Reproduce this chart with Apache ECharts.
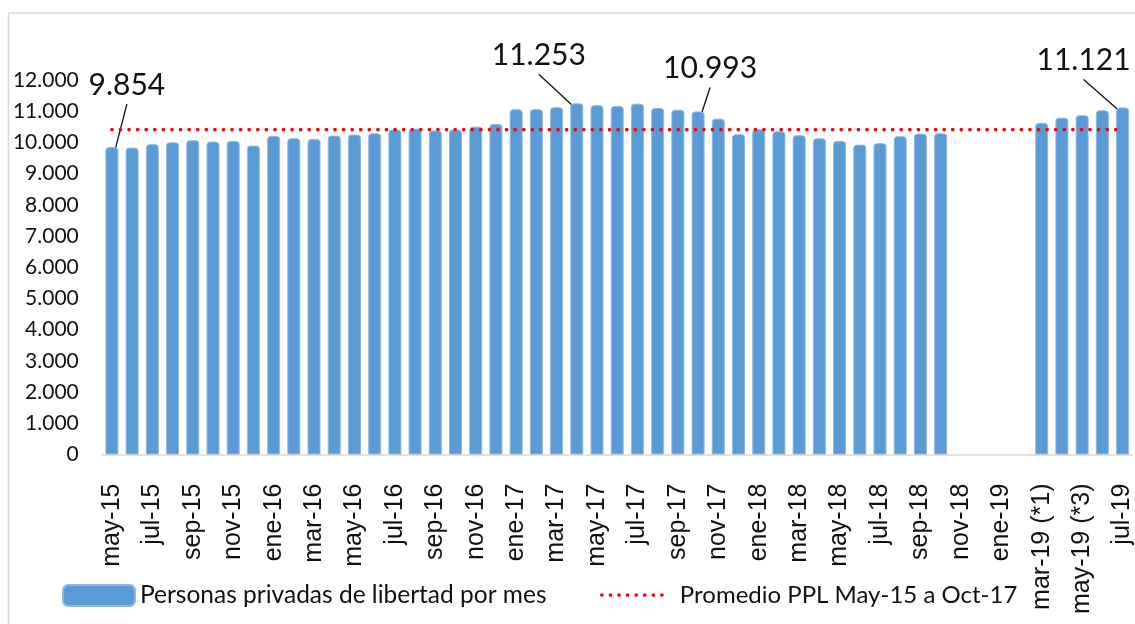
<!DOCTYPE html>
<html>
<head>
<meta charset="utf-8">
<script src="https://cdn.jsdelivr.net/npm/echarts@6/dist/echarts.min.js"></script>
<style>
  html, body { margin: 0; padding: 0; background: #ffffff; }
  #chart { width: 1135px; height: 624px; }
</style>
</head>
<body>
<div id="chart"></div>
<script>
// ---------- DATA ----------
const months = [
  'may-15','jun-15','jul-15','ago-15','sep-15','oct-15','nov-15','dic-15',
  'ene-16','feb-16','mar-16','abr-16','may-16','jun-16','jul-16','ago-16','sep-16','oct-16','nov-16','dic-16',
  'ene-17','feb-17','mar-17','abr-17','may-17','jun-17','jul-17','ago-17','sep-17','oct-17','nov-17','dic-17',
  'ene-18','feb-18','mar-18','abr-18','may-18','jun-18','jul-18','ago-18','sep-18','oct-18','nov-18','dic-18',
  'ene-19','feb-19','mar-19 (*1)','abr-19 (*2)','may-19 (*3)','jun-19 (*4)','jul-19'
];
const pplPorMes = [
  9854, 9834, 9942, 10006, 10070, 10026, 10048, 9898,
  10208, 10134, 10112, 10218, 10250, 10294, 10410, 10442, 10378, 10410, 10506, 10592,
  11062, 11062, 11126, 11253, 11190, 11168, 11242, 11104, 11050, 10993, 10762, 10262,
  10422, 10358, 10230, 10134, 10048, 9930, 9974, 10198, 10282, 10294, null, null,
  null, null, 10624, 10794, 10870, 11030, 11121
];
const promedioPPL = 10410;
const labeledMonths = ['may-15', 'abr-17', 'oct-17', 'jul-19'];
const yMin = 0, yMax = 12000, yStep = 1000;
const seriesNames = ['Personas privadas de libertad por mes', 'Promedio PPL May-15 a Oct-17'];

// ---------- HELPERS ----------
const fmt = v => String(v).replace(/\B(?=(\d{3})+(?!\d))/g, '.');
const FONT = 'Lato, "Open Sans", "Liberation Sans", sans-serif';
const XFONT = '"Liberation Sans", Arial, sans-serif';
// label placement relative to the bar top (layout only)
const labelOffsets = {
  'may-15': [15, -62],
  'abr-17': [-38, -48],
  'oct-17': [12, -43],
  'jul-19': [-39, -47]
};

const barData = pplPorMes.map((v, i) => labeledMonths.includes(months[i])
  ? { value: v, label: { show: true }, labelLine: { show: true } }
  : v);

const chart = echarts.init(document.getElementById('chart'), null, { renderer: 'canvas' });
chart.setOption({
  animation: false,
  backgroundColor: '#ffffff',
  textStyle: { fontFamily: FONT },
  graphic: [{
    type: 'rect', silent: true, z: -10,
    shape: { x: 8.5, y: 13, width: 1300, height: 800 },
    style: { fill: 'none', stroke: '#d9d9d9', lineWidth: 1.5 }
  }],
  grid: { left: 101.8, right: -3.2, top: 80, bottom: 169.5, containLabel: false },
  legend: [{
    data: [seriesNames[0]],
    left: 62, top: 583, padding: 0,
    icon: 'roundRect',
    itemWidth: 72, itemHeight: 21,
    textStyle: { fontFamily: FONT, fontSize: 24.5, color: '#111' }
  }, {
    data: [seriesNames[1]],
    left: 600, top: 583, padding: 0,
    itemWidth: 64, itemHeight: 21,
    itemStyle: { color: 'rgba(0,0,0,0)', borderWidth: 0 },
    lineStyle: { color: '#ff0000', width: 3.7, type: [0.01, 8.57], cap: 'round' },
    textStyle: { fontFamily: FONT, fontSize: 24, color: '#111', padding: [0, 0, 0, 9] }
  }],
  xAxis: {
    type: 'category',
    data: months,
    axisTick: { show: false },
    axisLine: { lineStyle: { color: '#d9d9d9', width: 1.5 } },
    axisLabel: {
      rotate: 90, interval: 1, margin: 29,
      fontFamily: XFONT, fontSize: 25, color: '#111'
    }
  },
  yAxis: {
    type: 'value',
    min: yMin, max: yMax, interval: yStep,
    axisLine: { show: false },
    axisTick: { show: false },
    splitLine: { show: false },
    axisLabel: {
      margin: 23, fontFamily: FONT, fontSize: 21, color: '#111',
      formatter: v => fmt(v)
    }
  },
  series: [{
    name: seriesNames[0],
    type: 'bar',
    data: barData,
    barWidth: 13,
    itemStyle: {
      color: '#5b9bd5',
      borderColor: '#8fb9e5',
      borderWidth: 1,
      borderRadius: [3, 3, 0, 0]
    },
    label: {
      show: false,
      position: 'top',
      fontFamily: FONT, fontSize: 30, lineHeight: 30, color: '#111',
      padding: [0, 0, 8, 0],
      formatter: p => fmt(p.value)
    },
    labelLine: { show: false, lineStyle: { color: '#111', width: 1.3 } },
    labelLayout: params => {
      const off = labelOffsets[months[params.dataIndex]];
      if (!off) return {};
      return {
        x: params.rect.x + params.rect.width / 2 + off[0],
        y: params.rect.y + off[1],
        align: 'center',
        verticalAlign: 'middle'
      };
    },
    z: 2
  }, {
    name: seriesNames[1],
    type: 'line',
    data: months.map(() => promedioPPL),
    symbol: 'none',
    lineStyle: { color: '#ff0000', width: 3.7, type: [0.01, 8.57], cap: 'round' },
    z: 3
  }]
});
</script>
</body>
</html>
